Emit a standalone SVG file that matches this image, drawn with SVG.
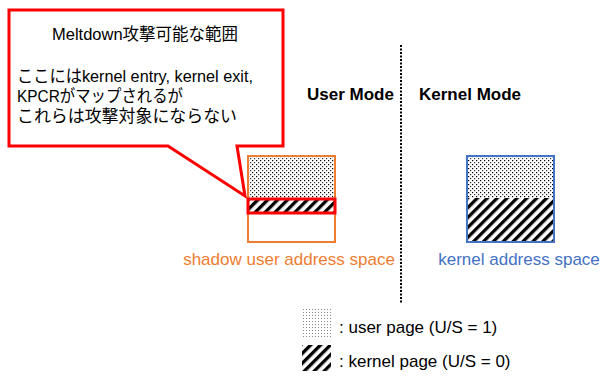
<svg xmlns="http://www.w3.org/2000/svg" width="601" height="376" viewBox="0 0 601 376">
<defs>
<pattern id="dots" width="4" height="4" patternUnits="userSpaceOnUse">
<rect width="4" height="4" fill="#fff"/>
<rect x="0" y="0" width="1.2" height="1.2" fill="#000"/>
<rect x="2" y="2" width="1.2" height="1.2" fill="#333"/>
</pattern>
<pattern id="dotsLight" width="3" height="3" patternUnits="userSpaceOnUse">
<rect width="3" height="3" fill="#fff"/>
<rect x="0" y="0" width="1" height="1" fill="#888"/>
</pattern>
<pattern id="hatch" width="7" height="7" patternUnits="userSpaceOnUse" patternTransform="rotate(45)">
<rect width="7" height="7" fill="#fff"/>
<rect x="0" y="0" width="3.3" height="7" fill="#000"/>
</pattern>
<style>
.jp{font-family:"Liberation Sans","Noto Sans CJK JP",sans-serif;font-size:17px;fill:#000}
.mode{font-family:"Liberation Sans",Arial,sans-serif;font-size:17px;font-weight:bold;fill:#000}
.lbl{font-family:"Liberation Sans",Arial,sans-serif;font-size:17px}
.leg{font-family:"Liberation Sans",Arial,sans-serif;font-size:17px;fill:#000}
</style>
</defs>
<rect width="601" height="376" fill="#fff"/>
<g id="callout">
<path d="M9,10 H283 V146 H237 L245,196 L168,146 H9 Z" fill="#fff" stroke="#ff0000" stroke-width="3" stroke-linejoin="miter"/>
<text class="jp" x="52" y="40" textLength="186" lengthAdjust="spacingAndGlyphs">Meltdown攻撃可能な範囲</text>
<text class="jp" x="17" y="82" textLength="236" lengthAdjust="spacingAndGlyphs">ここにはkernel entry, kernel exit,</text>
<text class="jp" x="17" y="102" textLength="166" lengthAdjust="spacingAndGlyphs">KPCRがマップされるが</text>
<text class="jp" x="17" y="122" textLength="220" lengthAdjust="spacingAndGlyphs">これらは攻撃対象にならない</text>
</g>
<g id="divider">
<line x1="401" y1="45" x2="401" y2="304" stroke="#000" stroke-width="2" stroke-dasharray="2,1.5"/>
</g>
<g id="user-mode-label"><text class="mode" x="307" y="100">User Mode</text></g>
<g id="kernel-mode-label"><text class="mode" x="419" y="100">Kernel Mode</text></g>
<g id="shadow-space">
<rect x="248" y="156" width="87" height="86" fill="#fff"/>
<rect x="248" y="156" width="87" height="42" fill="url(#dots)"/>
<rect x="248" y="156" width="87" height="86" fill="none" stroke="#ED7D31" stroke-width="2"/>
<rect x="248" y="199" width="87" height="14" fill="url(#hatch)" stroke="#ff0000" stroke-width="3"/>
<text class="lbl" x="289" y="265" text-anchor="middle" fill="#ED7D31">shadow user address space</text>
</g>
<g id="kernel-space">
<rect x="467" y="156" width="87" height="42" fill="url(#dots)"/>
<rect x="467" y="198" width="87" height="44" fill="url(#hatch)"/>
<rect x="467" y="156" width="87" height="86" fill="none" stroke="#4472C4" stroke-width="2"/>
<text class="lbl" x="519" y="265" text-anchor="middle" fill="#4472C4">kernel address space</text>
</g>
<g id="legend">
<rect x="302" y="309" width="29" height="29" fill="url(#dotsLight)"/>
<text class="leg" x="339" y="333">: user page (U/S = 1)</text>
<rect x="302" y="345" width="29" height="26" fill="url(#hatch)"/>
<text class="leg" x="339" y="367">: kernel page (U/S = 0)</text>
</g>
</svg>
